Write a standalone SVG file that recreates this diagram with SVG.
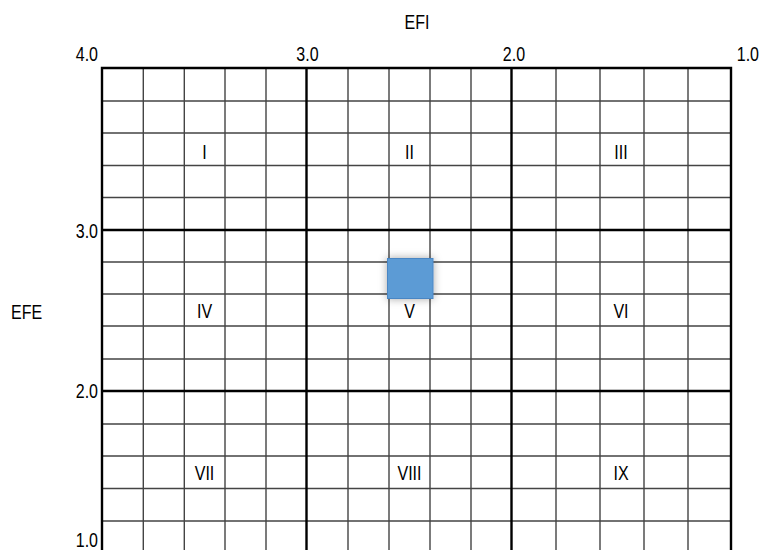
<svg xmlns="http://www.w3.org/2000/svg" width="761" height="550" viewBox="0 0 761 550">
<style>
text{font-family:"Liberation Sans",Arial,sans-serif;font-size:20px;fill:#000}
.thin{stroke:#444;stroke-width:1.4;fill:none}
.thick{stroke:#000;stroke-width:2.4;fill:none}
.c{text-anchor:middle}
.e{text-anchor:end}
</style>
<defs>
<filter id="sh" x="-50%" y="-50%" width="200%" height="200%">
<feDropShadow dx="0" dy="0" stdDeviation="4" flood-color="#000" flood-opacity="0.35"/>
</filter>
</defs>
<rect width="761" height="550" fill="#fff"/>
<g id="connectors">
<path class="thin" d="M143.3 68V553M184.3 68V553M225 68V553M266 68V553M348 68V553M389 68V553M430 68V553M471 68V553M556 68V553M600 68V553M644 68V553M688 68V553"/>
<path class="thin" d="M102 101H731M102 133H731M102 165.5H731M102 197.5H731M102 262H731M102 294H731M102 326H731M102 359H731M102 424H731M102 456H731M102 488.5H731M102 521H731"/>
<path class="thick" d="M306.5 68V553M511.5 68V553M102 230H731M102 391H731"/>
<path class="thick" d="M102 553V68H731V553"/>
</g>
<g id="axis-efi">
<text class="c" transform="translate(417,29) scale(0.8,1)">EFI</text>
<text class="e" transform="translate(98,61) scale(0.8,1)">4.0</text>
<text class="c" transform="translate(307.5,61) scale(0.8,1)">3.0</text>
<text class="c" transform="translate(514,61) scale(0.8,1)">2.0</text>
<text class="e" transform="translate(759,61) scale(0.8,1)">1.0</text>
</g>
<g id="axis-efe">
<text transform="translate(11,319) scale(0.8,1)">EFE</text>
<text class="e" transform="translate(98,238) scale(0.8,1)">3.0</text>
<text class="e" transform="translate(98,398) scale(0.8,1)">2.0</text>
<text class="e" transform="translate(98,547) scale(0.8,1)">1.0</text>
</g>
<g id="cell-I"><text class="c" transform="translate(204.5,159) scale(0.8,1)">I</text></g>
<g id="cell-II"><text class="c" transform="translate(409.5,159) scale(0.8,1)">II</text></g>
<g id="cell-III"><text class="c" transform="translate(621,159) scale(0.8,1)">III</text></g>
<g id="cell-IV"><text class="c" transform="translate(204.5,318) scale(0.8,1)">IV</text></g>
<g id="cell-V"><text class="c" transform="translate(409.5,318) scale(0.8,1)">V</text></g>
<g id="cell-VI"><text class="c" transform="translate(621,318) scale(0.8,1)">VI</text></g>
<g id="cell-VII"><text class="c" transform="translate(204.5,480) scale(0.8,1)">VII</text></g>
<g id="cell-VIII"><text class="c" transform="translate(409.5,480) scale(0.8,1)">VIII</text></g>
<g id="cell-IX"><text class="c" transform="translate(621,480) scale(0.8,1)">IX</text></g>
<g id="position"><rect x="387.5" y="258.5" width="45.5" height="40" fill="#5b9bd5" stroke="#4a86c4" stroke-width="1" filter="url(#sh)"/></g>
</svg>
